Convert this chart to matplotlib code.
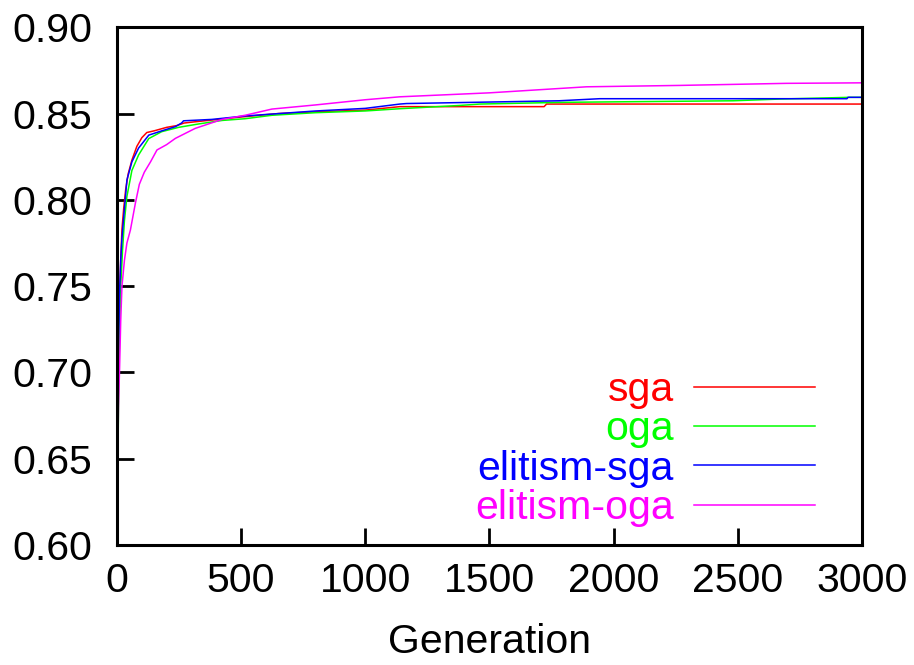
import matplotlib
matplotlib.use("Agg")
import matplotlib.pyplot as plt

plt.rcParams["font.family"] = ["Liberation Sans", "DejaVu Sans"]

# best fitness per generation
sga_gen = [0, 3, 6, 10, 15, 20, 27, 35, 45, 60, 80, 100, 120, 150, 200, 240, 270, 300,
           400, 500, 650, 800, 1000, 1139, 1500, 1720, 1730, 3000]
sga_fit = [0.620, 0.66, 0.70, 0.74, 0.765, 0.783, 0.795, 0.806, 0.815, 0.823, 0.831, 0.836,
           0.839, 0.840, 0.842, 0.843, 0.8445, 0.845, 0.8465, 0.848, 0.850, 0.851, 0.852,
           0.854, 0.854, 0.854, 0.8555, 0.8555]

oga_gen = [0, 3, 6, 10, 15, 22, 30, 40, 60, 87, 128, 180, 248, 330, 423, 516, 624, 800,
           1000, 1139, 1381, 1461, 1797, 2481, 2669, 2950, 3000]
oga_fit = [0.612, 0.64, 0.68, 0.72, 0.75, 0.77, 0.788, 0.802, 0.817, 0.826, 0.8355, 0.8395,
           0.842, 0.844, 0.846, 0.847, 0.849, 0.8505, 0.8515, 0.8528, 0.8547, 0.8555,
           0.8565, 0.8574, 0.8584, 0.8594, 0.8594]

esga_gen = [0, 3, 6, 10, 15, 20, 27, 40, 60, 87, 128, 181, 235, 260, 268, 382, 516, 624,
            800, 1000, 1139, 1166, 1780, 1944, 2940, 2944, 3000]
esga_fit = [0.622, 0.67, 0.71, 0.745, 0.765, 0.778, 0.79, 0.8115, 0.822, 0.830, 0.8375,
            0.840, 0.8424, 0.8445, 0.8458, 0.8466, 0.8486, 0.8497, 0.8515, 0.853, 0.8555,
            0.8558, 0.8574, 0.8586, 0.8586, 0.8594, 0.8594]

eoga_gen = [0, 3, 6, 10, 15, 20, 30, 40, 54, 74, 90, 110, 135, 161, 200, 235, 315, 423,
            516, 624, 800, 1000, 1139, 1500, 1891, 2266, 2696, 3000]
eoga_fit = [0.625, 0.65, 0.68, 0.70, 0.73, 0.75, 0.765, 0.775, 0.7825, 0.798, 0.809, 0.816,
            0.822, 0.8289, 0.832, 0.8356, 0.8414, 0.8466, 0.849, 0.8526, 0.855, 0.858,
            0.8597, 0.862, 0.8655, 0.8663, 0.8675, 0.8678]

fig = plt.figure(figsize=(9.14, 6.65), dpi=100)
ax = fig.add_axes([0.128, 0.1805, 0.815, 0.7785])

ax.plot(sga_gen, sga_fit, color="#ff0000", lw=1.1, label="sga")
ax.plot(oga_gen, oga_fit, color="#00ff00", lw=1.1, label="oga")
ax.plot(esga_gen, esga_fit, color="#0000ff", lw=1.1, label="elitism-sga")
ax.plot(eoga_gen, eoga_fit, color="#ff00ff", lw=1.1, label="elitism-oga")

ax.set_xlim(0, 3000)
ax.set_ylim(0.60, 0.90)
ax.set_xticks(range(0, 3001, 500))
ax.set_yticks([0.60, 0.65, 0.70, 0.75, 0.80, 0.85, 0.90])
ax.set_yticklabels(["0.60", "0.65", "0.70", "0.75", "0.80", "0.85", "0.90"])
ax.tick_params(direction="in", length=12, width=2, labelsize=29.5)
ax.tick_params(axis="y", pad=18)
ax.tick_params(axis="x", pad=12)
for s in ax.spines.values():
    s.set_linewidth(2.2)

ax.set_xlabel("Generation", fontsize=29.5, labelpad=17)

ax.legend(loc="lower right", bbox_to_anchor=(0.937, 0.035), frameon=False,
          markerfirst=False, fontsize=29.5, handlelength=2.95, handletextpad=0.5,
          labelspacing=0.03, borderpad=0, borderaxespad=0, labelcolor="linecolor")

fig.savefig("out.png", dpi=100)
